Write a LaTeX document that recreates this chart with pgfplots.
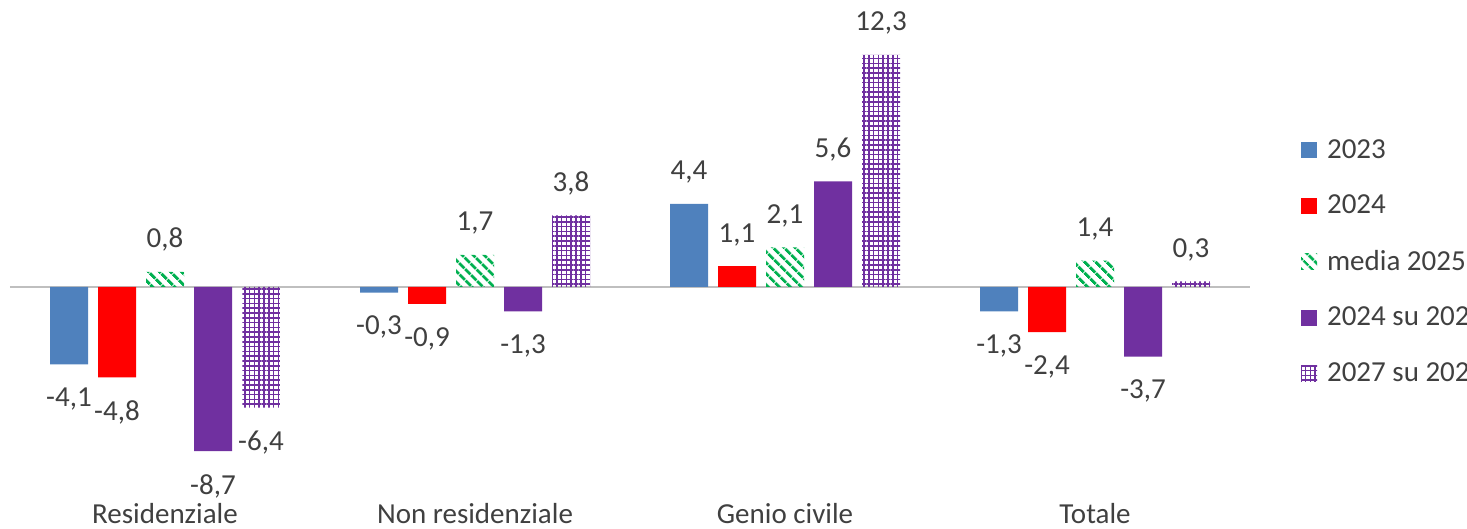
\documentclass[border=0pt]{standalone}
\usepackage{pgfplots}
\pgfplotsset{compat=1.18}
\usepackage{fontspec}
\setmainfont{Carlito}
\usetikzlibrary{patterns.meta}
\definecolor{cblue}{HTML}{4F81BD}
\definecolor{cred}{HTML}{FF0000}
\definecolor{cgreen}{HTML}{00B050}
\definecolor{cpurple}{HTML}{7030A0}
\definecolor{ctext}{HTML}{404040}
\begin{document}
\begin{tikzpicture}
\clip[use as bounding box] (0,0) rectangle (733.5pt,264.5pt);
\begin{axis}[
  at={(5pt,22pt)}, anchor=south west,
  x=155pt, y=9.43pt,
  xmin=-0.5, xmax=3.5, ymin=-10.5, ymax=14,
  axis line style={draw=none},
  ytick=\empty,
  xtick={0,1,2,3},
  xticklabels={Residenziale,Non residenziale,Genio civile,Totale},
  major tick length=0pt,
  ticklabel style={font=\fontsize{14.5}{16}\selectfont, text=ctext},
  xticklabel style={yshift=-5.5pt},
  clip=false,
  ybar=5pt, bar width=19pt,
  visualization depends on={y \as \rawy},
  nodes near coords,
  nodes near coords style={font=\fontsize{14.5}{16}\selectfont, text=ctext, inner sep=10pt,
    yshift={-1.5*(\rawy<0)},
    /pgf/number format/assume math mode=true,
    /pgf/number format/fixed, /pgf/number format/fixed zerofill,
    /pgf/number format/precision=1, /pgf/number format/use comma},
  legend style={at={(1.036,0.766)}, anchor=north west, draw=none, fill=none,
    font=\fontsize{14.5}{16}\selectfont, text=ctext, row sep=12.8pt,
    /tikz/every odd column/.append style={column sep=3pt}},
  legend cell align=left,
  legend image code/.code={\path[#1, draw=none] (0pt,-4pt) rectangle (8pt,4pt);},
]
\draw[gray!50, line width=0.8pt] (axis cs:-0.5,0) -- (axis cs:3.5,0);
\addplot[draw=none, fill=cblue] coordinates {(0,-4.1) (1,-0.3) (2,4.4) (3,-1.3)};
\addplot[draw=none, fill=cred] coordinates {(0,-4.8) (1,-0.9) (2,1.1) (3,-2.4)};
\addplot[draw=none, pattern={Lines[angle=-45, distance=4pt, line width=1.6pt]}, pattern color=cgreen] coordinates {(0,0.8) (1,1.7) (2,2.1) (3,1.4)};
\addplot[draw=none, fill=cpurple] coordinates {(0,-8.7) (1,-1.3) (2,5.6) (3,-3.7)};
\addplot[draw=none, fill=white, pattern={Hatch[angle=0, distance=2.4pt, line width=0.8pt]}, pattern color=cpurple] coordinates {(0,-6.4) (1,3.8) (2,12.3) (3,0.3)};
\legend{2023,2024,media 2025,2024 su 2023,2027 su 2024}
\end{axis}
\end{tikzpicture}
\end{document}
